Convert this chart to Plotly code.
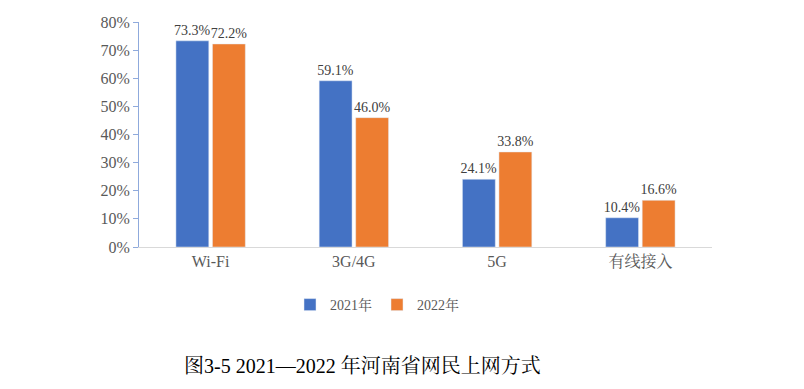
import plotly.graph_objects as go

categories = ["Wi-Fi", "3G/4G", "5G", "有线接入"]
series_names = ["2021年", "2022年"]
values_2021 = [0.733, 0.591, 0.241, 0.104]
values_2022 = [0.722, 0.460, 0.338, 0.166]
colors = ["#4472C4", "#ED7D31"]
title_text = "图3-5 2021—2022 年河南省网民上网方式"

FONT = "Liberation Serif, Noto Serif CJK SC, Noto Sans CJK SC, serif"

fig = go.Figure()
for name, vals, col in zip(series_names, [values_2021, values_2022], colors):
    fig.add_trace(go.Bar(
        x=categories, y=vals, name=name, marker_color=col,
        text=[f"{v*100:.1f}%" for v in vals], textposition="outside",
        textfont=dict(family=FONT, size=14, color="#404040"),
        constraintext="none", cliponaxis=False,
    ))

W, H = 804, 389
OFF = 8  # page body margin
L, T = 139 - OFF, 22 - OFF
pw, ph = 573, 225
R, B = W - L - pw, H - T - ph

def px_x(x):
    return (x - OFF - L) / pw

def px_y(y):
    return (T + ph - (y - OFF)) / ph

fig.update_layout(
    width=W, height=H,
    margin=dict(l=L, r=R, t=T, b=B, autoexpand=False),
    paper_bgcolor="white", plot_bgcolor="white",
    barmode="group", bargap=0.49, bargroupgap=0.1,
    font=dict(family=FONT, size=15, color="#595959"),
    showlegend=True,
    legend=dict(orientation="h", x=px_x(290), xanchor="left",
                y=px_y(305), yanchor="middle",
                font=dict(family=FONT, size=14, color="#595959"),
                itemwidth=30, traceorder="normal"),
    annotations=[dict(text=title_text, x=px_x(362), y=px_y(366),
                      xref="paper", yref="paper", showarrow=False,
                      xanchor="center", yanchor="middle",
                      font=dict(family=FONT, size=20, color="#000000"))],
)
fig.update_yaxes(range=[0, 0.8], dtick=0.1, tickformat=".0%",
                 showgrid=False, zeroline=False,
                 showline=True, linecolor="#8FAADC", linewidth=1,
                 ticks="outside", ticklen=5, tickcolor="#8FAADC",
                 tickfont=dict(family=FONT, size=16, color="#595959"))
fig.update_xaxes(showline=True, linecolor="#D9D9D9", linewidth=1,
                 showgrid=False, ticks="",
                 tickfont=dict(family=FONT, size=16, color="#595959"))

fig.write_html("out.html")
